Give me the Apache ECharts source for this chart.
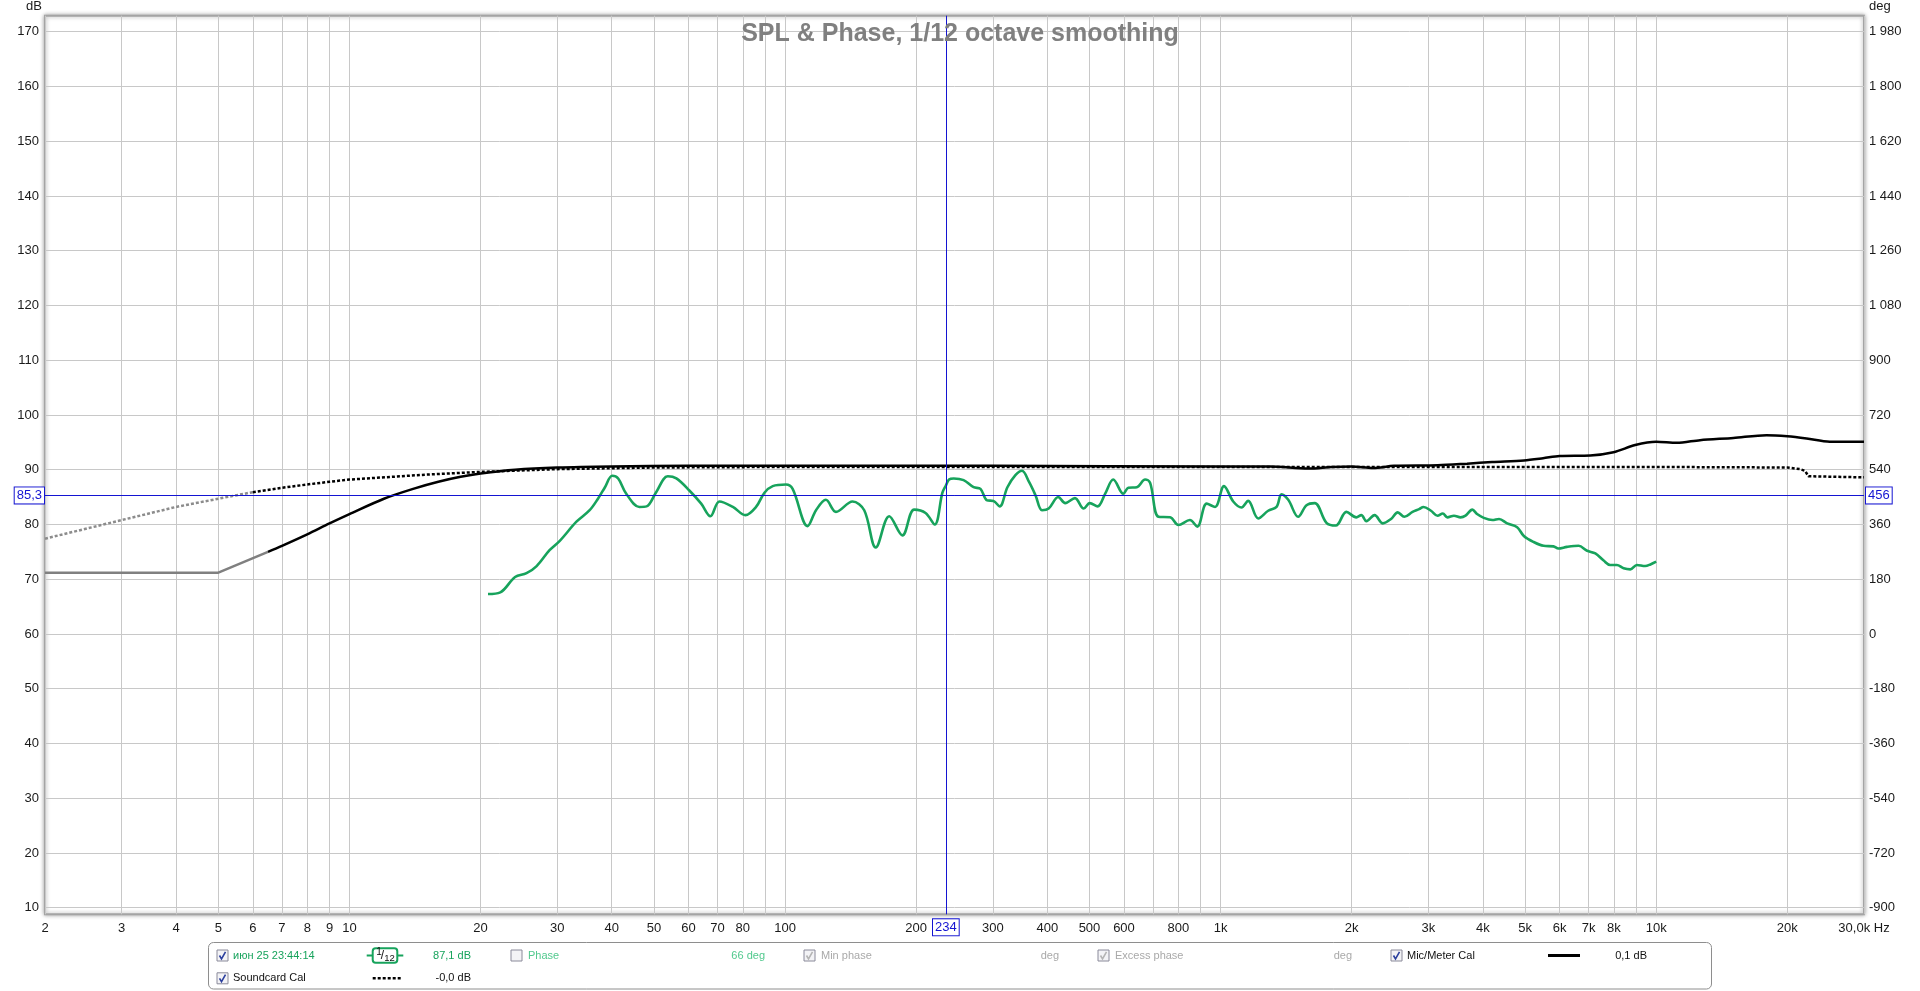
<!DOCTYPE html>
<html><head><meta charset="utf-8">
<script src="https://cdn.jsdelivr.net/npm/echarts@6/dist/echarts.min.js"></script>
<style>html,body{margin:0;padding:0;background:#fff}#c{width:1920px;height:991px}</style>
</head><body><div id="c"></div>
<script>
// ---------- data ----------
const measFreq = [20.8,22.2,24.0,25.5,26.9,28.8,30.4,33.2,35.6,37.2,38.6,40.1,41.4,43.2,46.3,48.1,50.6,53.8,56.3,60.3,64.2,67.4,70.7,75.9,81.1,85.8,89.7,93.7,100.5,104.1,112.7,117.8,124.1,130.9,142.9,152.0,161.6,173.5,186.0,197.9,210.2,220.6,229.8,234,238,244,257,271,281,291,301,311,324,338,350,363,376,389,403,424,440,463,485,501,522,543,567,598,614,642,671,689,720,766,800,850,884,929,971,1018,1069,1117,1157,1220,1286,1344,1380,1430,1507,1575,1645,1750,1839,1944,2049,2104,2161,2257,2358,2462,2551,2641,2758,2856,2923,3041,3148,3236,3316,3434,3556,3650,3784,3880,4020,4207,4358,4550,4795,4968,5232,5514,5809,5963,6240,6637,6940,7250,7576,7840,8123,8418,8722,9031,9436,9701,10000];
const measDb = [67.3,67.6,70.4,71.1,72.4,75.3,77.0,80.5,82.6,84.7,86.8,88.9,88.4,85.6,83.2,83.3,85.9,88.8,88.4,86.2,83.8,81.5,84.2,83.2,81.7,83.2,85.8,87.0,87.3,86.5,79.7,82.6,84.5,82.3,84.2,82.6,75.8,81.5,78.0,82.7,82.1,80.0,85.8,87.1,88.2,88.4,88.1,86.8,86.5,84.4,84.3,83.3,86.8,89.0,89.8,87.8,85.3,82.6,82.9,85.0,83.9,84.8,82.9,83.9,83.3,85.6,88.2,85.6,86.7,86.8,88.2,87.6,81.4,81.3,79.9,80.8,79.6,83.8,83.2,87.0,84.2,83.1,84.3,81.1,82.5,83.2,85.5,84.5,81.4,83.5,83.9,80.3,79.8,82.3,81.3,81.7,80.6,81.7,80.2,81.0,82.2,81.4,82.3,82.8,83.2,82.5,81.6,82.0,81.3,81.6,81.3,81.6,82.7,81.9,81.2,80.8,81.0,80.2,79.5,77.9,76.8,76.1,76.0,75.6,75.9,76.1,75.2,74.7,73.4,72.6,72.6,72.0,71.8,72.6,72.4,72.7,73.2];

const micFreq = [2,5,6.5,7,8,9,10,12,14,16,18,20,24,30,40,60,100,300,1000,1300,1590,1800,2000,2240,2500,3150,3680,4200,4970,5500,6000,7060,7980,8950,10000,11150,12610,15040,17920,20000,22150,25040,30000];
const micDb   = [71.2,71.2,75.0,76.1,78.2,80.2,81.9,84.7,86.5,87.8,88.7,89.3,90.0,90.4,90.6,90.7,90.7,90.7,90.6,90.6,90.2,90.5,90.6,90.3,90.7,90.8,91.1,91.4,91.7,92.1,92.5,92.6,93.2,94.5,95.1,94.9,95.4,95.8,96.3,96.1,95.7,95.1,95.1];
const micExtrapolatedBelowHz = 6.5;

const scFreq = [2,3,4,5,6,7,8,9,10,15,20,30,50,100,1000,10000,20000,21380,21960,22370,30000];
const scDb   = [77.4,80.8,83.2,84.7,85.9,86.7,87.3,87.8,88.2,89.1,89.6,90.1,90.4,90.5,90.5,90.5,90.4,90.1,89.8,88.8,88.6];
const scExtrapolatedBelowHz = 6;

const gridFreqs = [2,3,4,5,6,7,8,9,10,20,30,40,50,60,70,80,90,100,200,300,400,500,600,700,800,900,1000,2000,3000,4000,5000,6000,7000,8000,9000,10000,20000,30000];
const labelFreqs = [2,3,4,5,6,7,8,9,10,20,30,40,50,60,70,80,100,200,300,400,500,600,800,1000,2000,3000,4000,5000,6000,7000,8000,10000,20000,30000];

const cursorHz = 234, cursorDb = 85.3, cursorDeg = 456;

// ---------- layout ----------
const FONT = '"Liberation Sans", Arial, sans-serif';
const L = 45, R = 56;
const g1Top = 31.7, g1H = 876;           // 170 dB .. 10 dB
const pxPerDb = g1H / 160;
const g0Top = 15.7, g0Bot = 914.3;        // frame
const y0Max = 170 + (g1Top - g0Top) / pxPerDb;
const y0Min = 10 - (g0Bot - (g1Top + g1H)) / pxPerDb;
const GRID = '#c8c8c8', BLUE = '#1414d2', GREEN = '#17a35c';

const pairs = (fs, ds) => fs.map((f, i) => [f, ds[i]]);
const micAll = pairs(micFreq, micDb);
const scAll = pairs(scFreq, scDb);

function fmtHz(v) {
  v = Math.round(v);
  if (v >= 30000) return '30,0k Hz';
  if (v >= 1000) return (v / 1000) + 'k';
  return String(v);
}
const fmtDeg = v => String(v).replace(/\B(?=(\d{3})+(?!\d))/g, ' ');

const lineBase = { type: 'line', xAxisIndex: 0, yAxisIndex: 0, showSymbol: false, symbol: 'none', silent: true, animation: false };

// ---------- legend graphics ----------
const graphics = [];
function txt(x, y, text, fill, align) {
  graphics.push({ type: 'text', x, y, silent: true, style: { text, fill, fontSize: 11, fontFamily: FONT, align: align || 'left', verticalAlign: 'middle' } });
}
function checkbox(x, y, state) {
  graphics.push({ type: 'rect', silent: true, shape: { x, y, width: 11, height: 11 }, style: { fill: '#f3f3f6', stroke: '#8a8a9a', lineWidth: 1 } });
  if (state !== 'off') {
    graphics.push({ type: 'polyline', silent: true, shape: { points: [[x + 2.5, y + 5.5], [x + 4.5, y + 8.8], [x + 8.5, y + 1.8]] },
      style: { stroke: state === 'on' ? '#2b3f9e' : '#b4b4b4', lineWidth: 1.6, fill: null } });
  }
}
graphics.push({ type: 'rect', silent: true, shape: { x: 208.5, y: 942.5, width: 1503, height: 46.5, r: 5 }, style: { fill: '#fff', stroke: '#8e8e8e', lineWidth: 1 } });
const r1 = 955.5, r2 = 978.3;
checkbox(217, r1 - 5.5, 'on');  txt(233, r1, 'июн 25 23:44:14', GREEN);
graphics.push({ type: 'line', silent: true, shape: { x1: 366.7, y1: r1, x2: 403.3, y2: r1 }, style: { stroke: GREEN, lineWidth: 2 } });
graphics.push({ type: 'rect', silent: true, shape: { x: 372.7, y: 948.2, width: 24.6, height: 14.6, r: 3 }, style: { fill: '#fff', stroke: GREEN, lineWidth: 2 } });
graphics.push({ type: 'text', x: 379, y: 952.5, silent: true, style: { text: '1', fill: '#111', fontSize: 10, fontFamily: FONT, align: 'center', verticalAlign: 'middle' } });
graphics.push({ type: 'text', x: 382.5, y: 955.5, silent: true, style: { text: '/', fill: '#111', fontSize: 12, fontFamily: FONT, align: 'center', verticalAlign: 'middle' } });
graphics.push({ type: 'text', x: 389.5, y: 958, silent: true, style: { text: '12', fill: '#111', fontSize: 9.5, fontFamily: FONT, align: 'center', verticalAlign: 'middle' } });
txt(471, r1, '87,1 dB', GREEN, 'right');
checkbox(511, r1 - 5.5, 'off'); txt(528, r1, 'Phase', '#52c98e');
txt(765, r1, '66 deg', '#52c98e', 'right');
checkbox(804, r1 - 5.5, 'dis'); txt(821, r1, 'Min phase', '#a9a9a9');
txt(1059, r1, 'deg', '#a9a9a9', 'right');
checkbox(1098, r1 - 5.5, 'dis'); txt(1115, r1, 'Excess phase', '#a9a9a9');
txt(1352, r1, 'deg', '#a9a9a9', 'right');
checkbox(1391, r1 - 5.5, 'on'); txt(1407, r1, 'Mic/Meter Cal', '#111');
graphics.push({ type: 'line', silent: true, shape: { x1: 1548, y1: r1, x2: 1580, y2: r1 }, style: { stroke: '#000', lineWidth: 3 } });
txt(1647, r1, '0,1 dB', '#111', 'right');
checkbox(217, r2 - 5.5, 'on');  txt(233, r2, 'Soundcard Cal', '#111');
graphics.push({ type: 'line', silent: true, shape: { x1: 372.7, y1: r2, x2: 401, y2: r2 }, style: { stroke: '#000', lineWidth: 2.5, lineDash: [3, 2] } });
txt(471, r2, '-0,0 dB', '#111', 'right');

// ---------- chart ----------
const chart = echarts.init(document.getElementById('c'), null, { renderer: 'canvas' });
const axisLabelStyle = { color: '#1a1a1a', fontSize: 13, fontFamily: FONT };
chart.setOption({
  animation: false,
  backgroundColor: '#fff',
  title: { text: 'SPL & Phase, 1/12 octave smoothing', left: 'center', top: 22, padding: 0,
    textStyle: { color: '#808080', fontSize: 25, fontWeight: 'bold', fontFamily: FONT, lineHeight: 25 } },
  grid: [
    { left: L, right: R, top: g0Top, height: g0Bot - g0Top, show: true, borderColor: '#a4a4a4', borderWidth: 2,
      backgroundColor: '#fff', shadowColor: 'rgba(0,0,0,0.35)', shadowBlur: 4, shadowOffsetX: 0, shadowOffsetY: 0, containLabel: false },
    { left: L, right: R, top: g1Top, height: g1H, show: false, containLabel: false }
  ],
  xAxis: [
    { type: 'log', logBase: 10, gridIndex: 0, min: 2, max: 30000,
      axisLine: { show: false },
      axisTick: { show: false, customValues: gridFreqs },
      splitLine: { show: true, lineStyle: { color: GRID, width: 1 } },
      minorTick: { show: false }, minorSplitLine: { show: false },
      axisLabel: Object.assign({ customValues: labelFreqs, formatter: fmtHz, margin: 8, hideOverlap: false, showMinLabel: true, showMaxLabel: true }, axisLabelStyle) },
    { type: 'log', logBase: 10, gridIndex: 1, min: 2, max: 30000, show: false }
  ],
  yAxis: [
    { type: 'value', gridIndex: 0, min: y0Min, max: y0Max, show: false, splitLine: { show: false } },
    { type: 'value', gridIndex: 1, position: 'left', min: 10, max: 170, interval: 10,
      name: 'dB', nameLocation: 'end', nameGap: 25,
      nameTextStyle: { color: '#1a1a1a', fontSize: 13, fontFamily: FONT, align: 'right', verticalAlign: 'middle', padding: [0, 3, 0, 0] },
      axisLine: { show: false }, axisTick: { show: false },
      splitLine: { show: true, lineStyle: { color: GRID, width: 1 } },
      axisLabel: Object.assign({ margin: 6 }, axisLabelStyle) },
    { type: 'value', gridIndex: 1, position: 'right', min: -900, max: 1980, interval: 180,
      name: 'deg', nameLocation: 'end', nameGap: 25,
      nameTextStyle: { color: '#1a1a1a', fontSize: 13, fontFamily: FONT, align: 'left', verticalAlign: 'middle', padding: [0, 0, 0, 5] },
      axisLine: { show: false }, axisTick: { show: false }, splitLine: { show: false },
      axisLabel: Object.assign({ margin: 5, formatter: fmtDeg }, axisLabelStyle) }
  ],
  series: [
    Object.assign({}, lineBase, { name: 'Soundcard Cal (ext)', z: 3, data: scAll.filter(p => p[0] <= scExtrapolatedBelowHz),
      lineStyle: { color: '#8c8c8c', width: 2.5, type: [3, 2] } }),
    Object.assign({}, lineBase, { name: 'Soundcard Cal', z: 3, data: scAll.filter(p => p[0] >= scExtrapolatedBelowHz),
      lineStyle: { color: '#000', width: 2.5, type: [3, 2] } }),
    Object.assign({}, lineBase, { name: 'Mic/Meter Cal (ext)', z: 4, data: micAll.filter(p => p[0] <= micExtrapolatedBelowHz),
      lineStyle: { color: '#808080', width: 2.5 } }),
    Object.assign({}, lineBase, { name: 'Mic/Meter Cal', z: 4, smooth: 0.3, data: micAll.filter(p => p[0] >= micExtrapolatedBelowHz),
      lineStyle: { color: '#000', width: 2.5 } }),
    Object.assign({}, lineBase, { name: 'июн 25 23:44:14', z: 5, smooth: 0.35, data: pairs(measFreq, measDb),
      lineStyle: { color: GREEN, width: 2.6 },
      markLine: {
        silent: true, symbol: ['none', 'none'], animation: false, z: 6,
        lineStyle: { color: BLUE, width: 1, type: 'solid' },
        label: { show: true, color: BLUE, backgroundColor: '#fff', borderColor: BLUE, borderWidth: 1,
          padding: [2, 2, 1, 2], fontSize: 13, fontFamily: FONT },
        data: [
          { xAxis: cursorHz, label: { position: 'start', distance: 5, formatter: String(cursorHz) } },
          { yAxis: cursorDb, label: { position: 'start', distance: 1, formatter: cursorDb.toFixed(1).replace('.', ',') } },
          { yAxis: cursorDb, label: { position: 'end', distance: 2, formatter: String(cursorDeg) } }
        ]
      } })
  ],
  graphic: graphics
});
</script>
</body></html>
